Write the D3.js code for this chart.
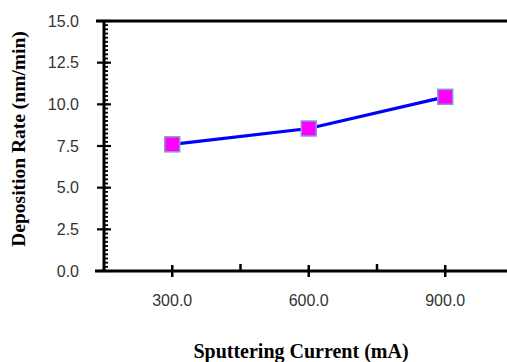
<!DOCTYPE html>
<html>
<head>
<meta charset="utf-8">
<script src="https://cdn.jsdelivr.net/npm/d3@7"></script>
<style>
  html, body { margin: 0; padding: 0; background: #fff; }
  svg { display: block; }
</style>
</head>
<body>
<svg id="chart" width="507" height="362"></svg>
<script>
// Deposition rate vs. sputtering current
const currents = [300, 600, 900];
const depositionRates = [7.6, 8.55, 10.45];
const xTickValues = [300, 600, 900];
const xMinorTickValues = [450, 750];
const yTickValues = [0, 2.5, 5, 7.5, 10, 12.5, 15];
const xTitle = "Sputtering Current (mA)";
const yTitle = "Deposition Rate (nm/min)";

const svg = d3.select("#chart");
const plotLeft = 104, plotTop = 21, plotBottom = 271, plotRight = 513.5;

const x = d3.scaleLinear().domain([150, 1050]).range([plotLeft, plotRight]);
const y = d3.scaleLinear().domain([0, 15]).range([plotBottom, plotTop]);

const ink = "#000";

// frame top edge
svg.append("line")
  .attr("x1", plotLeft - 8).attr("x2", 517)
  .attr("y1", plotTop).attr("y2", plotTop)
  .attr("stroke", ink).attr("stroke-width", 3);

// y axis: minor ticks inside, major ticks crossing
const yMinor = d3.range(0, 15.001, 0.25);
svg.append("g").selectAll("line").data(yMinor).join("line")
  .attr("x1", plotLeft).attr("x2", plotLeft + 4)
  .attr("y1", d => y(d)).attr("y2", d => y(d))
  .attr("stroke", ink).attr("stroke-width", 1.8);

svg.append("g").selectAll("line").data(yTickValues).join("line")
  .attr("x1", plotLeft - 7).attr("x2", plotLeft + 7)
  .attr("y1", d => y(d)).attr("y2", d => y(d))
  .attr("stroke", ink).attr("stroke-width", 2.2);

svg.append("line")
  .attr("x1", plotLeft).attr("x2", plotLeft)
  .attr("y1", plotTop).attr("y2", plotBottom)
  .attr("stroke", ink).attr("stroke-width", 3);

svg.append("g").selectAll("text").data(yTickValues).join("text")
  .attr("x", 79).attr("y", d => y(d))
  .attr("dy", "0.36em")
  .attr("text-anchor", "end")
  .attr("font-family", "'Liberation Sans', Arial, sans-serif")
  .attr("font-size", 16)
  .attr("fill", "#333")
  .text(d => d.toFixed(1));

// x axis
svg.append("line")
  .attr("x1", plotLeft - 9).attr("x2", 517)
  .attr("y1", plotBottom).attr("y2", plotBottom)
  .attr("stroke", ink).attr("stroke-width", 3);

svg.append("g").selectAll("line").data(xTickValues).join("line")
  .attr("x1", d => x(d)).attr("x2", d => x(d))
  .attr("y1", plotBottom - 6).attr("y2", plotBottom + 6)
  .attr("stroke", ink).attr("stroke-width", 2.5);

svg.append("g").selectAll("line").data(xMinorTickValues).join("line")
  .attr("x1", d => x(d)).attr("x2", d => x(d))
  .attr("y1", plotBottom - 7).attr("y2", plotBottom)
  .attr("stroke", ink).attr("stroke-width", 2.5);

svg.append("g").selectAll("text").data(xTickValues).join("text")
  .attr("x", d => x(d)).attr("y", 306)
  .attr("text-anchor", "middle")
  .attr("font-family", "'Liberation Sans', Arial, sans-serif")
  .attr("font-size", 16)
  .attr("fill", "#333")
  .text(d => d.toFixed(1));

// series line
const pts = currents.map((c, i) => [c, depositionRates[i]]);
svg.append("path")
  .datum(pts)
  .attr("d", d3.line().x(d => x(d[0])).y(d => y(d[1])))
  .attr("fill", "none")
  .attr("stroke", "#0000ff")
  .attr("stroke-width", 3.2);

// square markers
const s = 15;
svg.append("g").selectAll("rect").data(pts).join("rect")
  .attr("x", d => x(d[0]) - s / 2)
  .attr("y", d => y(d[1]) - s / 2)
  .attr("width", s).attr("height", s)
  .attr("fill", "#ff00ff")
  .attr("stroke", "#8a9cc8")
  .attr("stroke-width", 1.5);

// axis titles
svg.append("text")
  .attr("transform", "translate(25,139) rotate(-90)")
  .attr("text-anchor", "middle")
  .attr("font-family", "'Liberation Serif', 'Times New Roman', serif")
  .attr("font-weight", "bold")
  .attr("font-size", 19.5)
  .attr("fill", "#000")
  .text(yTitle);

svg.append("text")
  .attr("x", 301).attr("y", 358)
  .attr("text-anchor", "middle")
  .attr("font-family", "'Liberation Serif', 'Times New Roman', serif")
  .attr("font-weight", "bold")
  .attr("font-size", 20)
  .attr("fill", "#000")
  .text(xTitle);
</script>
</body>
</html>
